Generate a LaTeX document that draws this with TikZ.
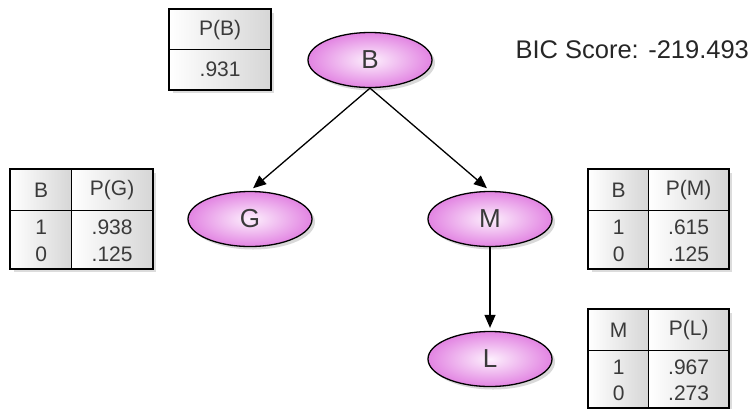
\documentclass[tikz,border=0pt]{standalone}
\usepackage{fontspec}
\setmainfont{Liberation Sans}
\usetikzlibrary{shapes.geometric,shadows,arrows.meta}

\definecolor{nodeedge}{RGB}{226,132,226}
\definecolor{nodecore}{RGB}{253,240,253}
\definecolor{labelgray}{RGB}{58,58,58}
\definecolor{cellgray}{RGB}{214,214,214}

% two stacked values in a table body cell, nudged down a little
\newcommand{\valpair}[2]{\raisebox{-3pt}[\height][\depth]{\begin{tabular}{@{}c@{}}#1\\#2\end{tabular}}}

\begin{document}
\begin{tikzpicture}[x=1pt,y=-1pt,
  var/.style={ellipse, draw=black, line width=1.3pt,
    minimum width=124pt, minimum height=55pt, inner sep=0pt,
    inner color=nodecore, outer color=nodeedge, text=labelgray,
    font=\fontsize{26}{30}\selectfont,
    drop shadow={shadow xshift=3pt, shadow yshift=-3pt, opacity=0.3}},
  cell/.style={rectangle, draw=black, line width=1.3pt, inner sep=0pt,
    anchor=north west, left color=white, right color=cellgray,
    text=labelgray, font=\fontsize{21}{26.5}\selectfont, align=center,
    drop shadow={shadow xshift=3pt, shadow yshift=-3pt, opacity=0.28}},
  frame/.style={draw=black, line width=2pt},
  edge/.style={draw=black, line width=1.3pt, -{Triangle[length=13pt,width=11pt]}},
  score/.style={anchor=base west, text=black!85, font=\fontsize{25.5}{30}\selectfont}
]
\useasboundingbox (0,0) rectangle (754,408);

% ---- variables ----
\node[var] (B) at (370,60) {B};
\node[var] (G) at (250,219) {G};
\node[var] (M) at (490,219) {M};
\node[var] (L) at (490,359) {L};

% ---- edges ----
\draw[edge, shorten >=4pt] (B.south) -- (G.north);
\draw[edge, shorten >=4pt] (B.south) -- (M.north);
\draw[edge, shorten >=3pt] (M.south) -- (L.north);

% ---- table P(B) ----
\node[cell, minimum width=101pt, minimum height=40pt] (pbH) at (169,9) {P(B)};
\node[cell, minimum width=101pt, minimum height=40pt] (pbV) at (169,49) {.931};
\draw[frame] (pbH.north west) rectangle (pbV.south east);

% ---- table P(G) ----
\node[cell, minimum width=61pt, minimum height=41pt] (pgH1) at (10,169) {B};
\node[cell, minimum width=81pt, minimum height=41pt] (pgH2) at (71,169) {P(G)};
\node[cell, minimum width=61pt, minimum height=58pt] (pgV1) at (10,210) {\valpair{1}{0}};
\node[cell, minimum width=81pt, minimum height=58pt] (pgV2) at (71,210) {\valpair{.938}{.125}};
\draw[frame] (pgH1.north west) rectangle (pgV2.south east);

% ---- table P(M) ----
\node[cell, minimum width=60pt, minimum height=41pt] (pmH1) at (588,169) {B};
\node[cell, minimum width=80pt, minimum height=41pt] (pmH2) at (648,169) {P(M)};
\node[cell, minimum width=60pt, minimum height=58pt] (pmV1) at (588,210) {\valpair{1}{0}};
\node[cell, minimum width=80pt, minimum height=58pt] (pmV2) at (648,210) {\valpair{.615}{.125}};
\draw[frame] (pmH1.north west) rectangle (pmV2.south east);

% ---- table P(L) ----
\node[cell, minimum width=60pt, minimum height=41pt] (plH1) at (588,309) {M};
\node[cell, minimum width=80pt, minimum height=41pt] (plH2) at (648,309) {P(L)};
\node[cell, minimum width=60pt, minimum height=57pt] (plV1) at (588,350) {\valpair{1}{0}};
\node[cell, minimum width=80pt, minimum height=57pt] (plV2) at (648,350) {\valpair{.967}{.273}};
\draw[frame] (plH1.north west) rectangle (plV2.south east);

% ---- score ----
\node[score] (bic) at (512,58) {BIC Score: -219.493};
\end{tikzpicture}
\end{document}
